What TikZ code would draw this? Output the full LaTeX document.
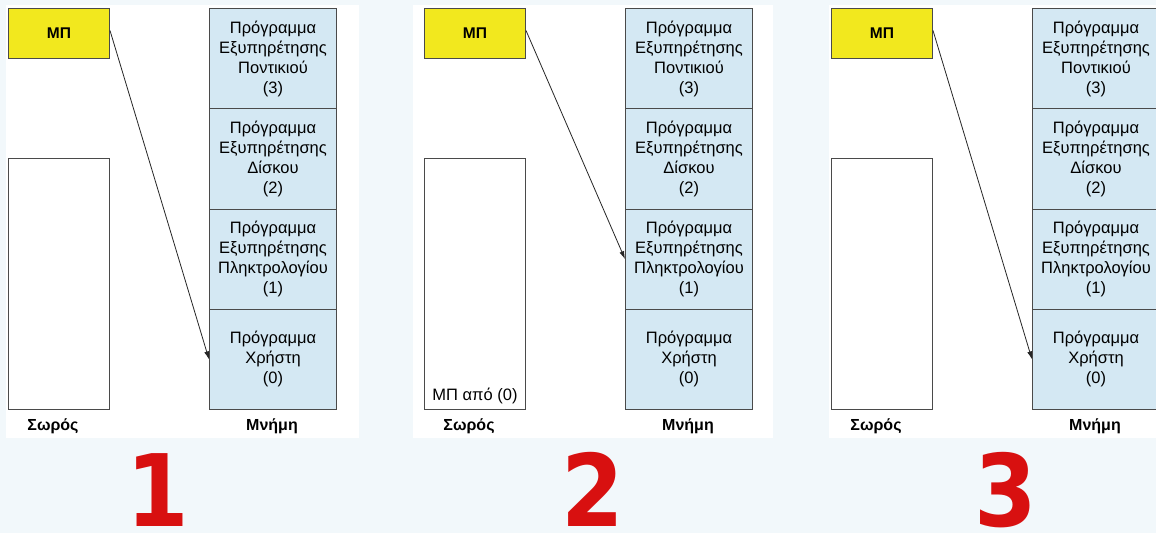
\documentclass[tikz,border=0pt]{standalone}
\usepackage{fontspec}
\setmainfont{Liberation Sans}
\newfontfamily\numfont{DejaVu Sans}
\usetikzlibrary{arrows.meta}
\definecolor{bgc}{HTML}{F2F8FB}
\definecolor{mpy}{HTML}{F2E81E}
\definecolor{memb}{HTML}{D4E8F3}
\definecolor{edgec}{HTML}{4A4A4A}
\definecolor{numred}{HTML}{D81010}
\tikzset{
  mpbox/.style={draw=edgec, line width=1pt, fill=mpy, minimum width=101pt, minimum height=50pt,
    inner sep=0pt, anchor=north west, font=\fontsize{15.5}{17}\selectfont\bfseries},
  stackbox/.style={draw=edgec, line width=1pt, fill=white, minimum width=101pt, minimum height=251pt,
    inner sep=0pt, anchor=north west},
  memcell/.style={draw=edgec, line width=1pt, fill=memb, minimum width=127pt, minimum height=100.25pt,
    inner sep=0pt, anchor=north west, align=center, font=\fontsize{16.5}{20}\selectfont},
  caption/.style={font=\fontsize{16}{18}\selectfont\bfseries, inner sep=0pt},
  plain/.style={font=\fontsize{16.5}{18}\selectfont, inner sep=0pt},
  ptr/.style={draw=black!85, line width=0.8pt, -{Latex[length=8pt,width=5pt]}},
  bignum/.style={font=\fontsize{100}{100}\selectfont\numfont\bfseries, inner sep=0pt, anchor=base, text=numred},
}
\begin{document}
\begin{tikzpicture}[x=1pt,y=-1pt]
\useasboundingbox (0,0) rectangle (1156,533);
\clip (0,0) rectangle (1156,533);
\fill[bgc] (0,0) rectangle (1156,533);
\fill[white] (6,5) rectangle (359,438);
\fill[white] (413,5) rectangle (773,438);
\fill[white] (829,5) rectangle (1156,438);

\foreach \ox/\i/\t in {0/1/0, 416/2/1, 823/3/0}{
  \node[mpbox] (mp\i) at (\ox+8,8) {ΜΠ};
  \node[stackbox] (st\i) at (\ox+8,158) {};
  \node[memcell] (m\i-3) at (\ox+209,8) {Πρόγραμμα\\Εξυπηρέτησης\\Ποντικιού\\(3)};
  \node[memcell] (m\i-2) at (\ox+209,108.25) {Πρόγραμμα\\Εξυπηρέτησης\\Δίσκου\\(2)};
  \node[memcell] (m\i-1) at (\ox+209,208.5) {Πρόγραμμα\\Εξυπηρέτησης\\Πληκτρολογίου\\(1)};
  \node[memcell] (m\i-0) at (\ox+209,308.75) {Πρόγραμμα\\Χρήστη\\(0)};
  \node[caption] (ls\i) at (\ox+53,426) {Σωρός};
  \node[caption] (lm\i) at (\ox+272,426) {Μνήμη};
  \draw[ptr] ([yshift=3pt]mp\i.east) -- (m\i-\t.west);
}
\node[plain, anchor=south] (mpfrom) at ([yshift=6pt]st2.south) {ΜΠ από (0)};

\foreach \d/\nx in {1/157.5, 2/592.5, 3/1006}{
  \node[bignum] (n\d) at (\nx,526) {\scalebox{0.9}[1]{\d}};
}
\end{tikzpicture}
\end{document}
